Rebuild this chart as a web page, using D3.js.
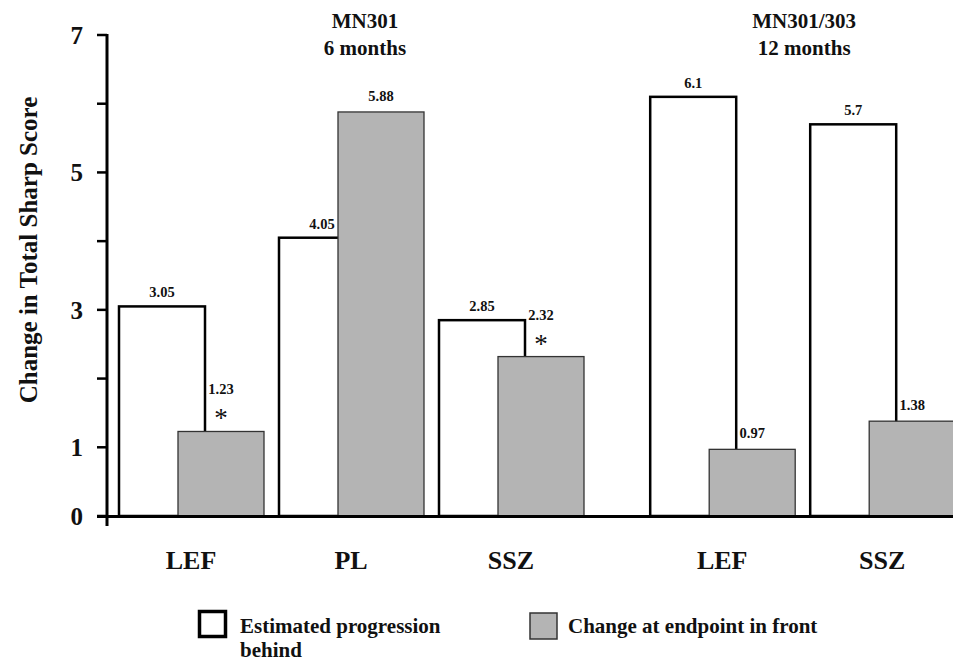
<!DOCTYPE html>
<html>
<head>
<meta charset="utf-8">
<script src="https://cdn.jsdelivr.net/npm/d3@7"></script>
<style>
  html, body { margin: 0; padding: 0; background: #fff; }
  svg { display: block; }
</style>
</head>
<body>
<svg id="chart" width="953" height="661"></svg>
<script>
// ---- data ----
const categories = ["LEF", "PL", "SSZ", "LEF", "SSZ"];
const groupOf = [0, 0, 0, 1, 1];
const groupTitles = [["MN301", "6 months"], ["MN301/303", "12 months"]];
const estimated = [3.05, 4.05, 2.85, 6.1, 5.7];
const endpoint = [1.23, 5.88, 2.32, 0.97, 1.38];
const estimatedLabels = ["3.05", "4.05", "2.85", "6.1", "5.7"];
const endpointLabels = ["1.23", "5.88", "2.32", "0.97", "1.38"];
const significant = [true, false, true, false, false];
const yTicks = [0, 1, 2, 3, 4, 5, 6, 7];
const yTickLabels = ["0", "1", "", "3", "", "5", "", "7"];
const seriesNames = [["Estimated progression", "behind"], ["Change at endpoint in front"]];

// ---- layout ----
const FONT = "Liberation Serif, Times New Roman, Times, serif";
const svg = d3.select("#chart")
  .attr("font-family", FONT).attr("font-weight", "bold").attr("fill", "#111");
const grayFill = "#b4b4b4";
const y = d3.scaleLinear().domain([0, 7]).range([516, 35]);
const groupGap = 0.32;
const slot = categories.map((c, i) => i + groupOf[i] * groupGap);
const x = d3.scaleLinear().domain([0, 1]).range([191, 351]);
const barW = 86;
const whiteOff = -72, grayOff = -13;

// y axis
const axisX = 107;
svg.append("line").attr("x1", axisX).attr("x2", axisX)
  .attr("y1", y(7) - 1).attr("y2", y(0) + 10)
  .attr("stroke", "#000").attr("stroke-width", 3);
svg.selectAll(".tick").data(yTicks).join("line")
  .attr("x1", 97).attr("x2", axisX)
  .attr("y1", d => y(d)).attr("y2", d => y(d))
  .attr("stroke", "#000").attr("stroke-width", 2.5);
svg.selectAll(".tlabel").data(yTicks).join("text")
  .attr("x", 83).attr("y", d => y(d))
  .attr("dy", "0.35em").attr("text-anchor", "end")
  .attr("font-size", 25)
  .text((d, i) => yTickLabels[i]);

svg.append("text")
  .attr("transform", `translate(37,250) rotate(-90)`)
  .attr("text-anchor", "middle")
  .attr("font-size", 25)
  .text("Change in Total Sharp Score");

// bars: white (behind)
const idx = d3.range(categories.length);
svg.selectAll(".wbar").data(idx).join("rect")
  .attr("x", i => x(slot[i]) + whiteOff)
  .attr("y", i => y(estimated[i]))
  .attr("width", barW)
  .attr("height", i => y(0) - y(estimated[i]))
  .attr("fill", "#fff").attr("stroke", "#000").attr("stroke-width", 2.5);

// bars: gray (front)
svg.selectAll(".gbar").data(idx).join("rect")
  .attr("x", i => x(slot[i]) + grayOff)
  .attr("y", i => y(endpoint[i]))
  .attr("width", barW)
  .attr("height", i => y(0) - y(endpoint[i]))
  .attr("fill", grayFill).attr("stroke", "#333").attr("stroke-width", 1.3);

// baseline
svg.append("line").attr("x1", 97).attr("x2", 953)
  .attr("y1", y(0) + 0.5).attr("y2", y(0) + 0.5)
  .attr("stroke", "#000").attr("stroke-width", 3);

// value labels
svg.selectAll(".wlab").data(idx).join("text")
  .attr("x", i => x(slot[i]) + whiteOff + barW / 2)
  .attr("y", i => y(estimated[i]) - 9)
  .attr("text-anchor", "middle")
  .attr("font-size", 14.5)
  .text(i => estimatedLabels[i]);
svg.selectAll(".glab").data(idx).join("text")
  .attr("x", i => x(slot[i]) + grayOff + barW / 2)
  .attr("y", i => y(endpoint[i]) - (significant[i] ? 37 : 11))
  .attr("text-anchor", "middle")
  .attr("font-size", 14.5)
  .text(i => endpointLabels[i]);
svg.selectAll(".star").data(idx.filter(i => significant[i])).join("text")
  .attr("x", i => x(slot[i]) + grayOff + barW / 2)
  .attr("y", i => y(endpoint[i]) - 4)
  .attr("text-anchor", "middle")
  .attr("font-size", 27).attr("font-weight", "normal")
  .text("*");

// category labels
svg.selectAll(".cat").data(idx).join("text")
  .attr("x", i => x(slot[i]))
  .attr("y", 569)
  .attr("text-anchor", "middle")
  .attr("font-size", 26)
  .text(i => categories[i]);

// group titles
groupTitles.forEach((t, g) => {
  const members = idx.filter(i => groupOf[i] === g);
  const cx = (x(slot[members[0]]) + x(slot[members[members.length - 1]])) / 2 + (g === 0 ? 14 : 2);
  t.forEach((line, k) => {
    svg.append("text").attr("x", cx).attr("y", 28 + k * 27)
      .attr("text-anchor", "middle").attr("font-size", 21).text(line);
  });
});

// legend
const legend = svg.append("g");
legend.append("rect").attr("x", 199.5).attr("y", 611.5).attr("width", 26).attr("height", 25)
  .attr("fill", "#fff").attr("stroke", "#000").attr("stroke-width", 3.5);
seriesNames[0].forEach((line, k) => {
  legend.append("text").attr("x", 240).attr("y", 633 + k * 24)
    .attr("font-size", 21).text(line);
});
legend.append("rect").attr("x", 530).attr("y", 613).attr("width", 27).attr("height", 26)
  .attr("fill", grayFill).attr("stroke", "#333").attr("stroke-width", 1.5);
seriesNames[1].forEach((line, k) => {
  legend.append("text").attr("x", 568).attr("y", 633 + k * 24)
    .attr("font-size", 21).text(line);
});
</script>
</body>
</html>
